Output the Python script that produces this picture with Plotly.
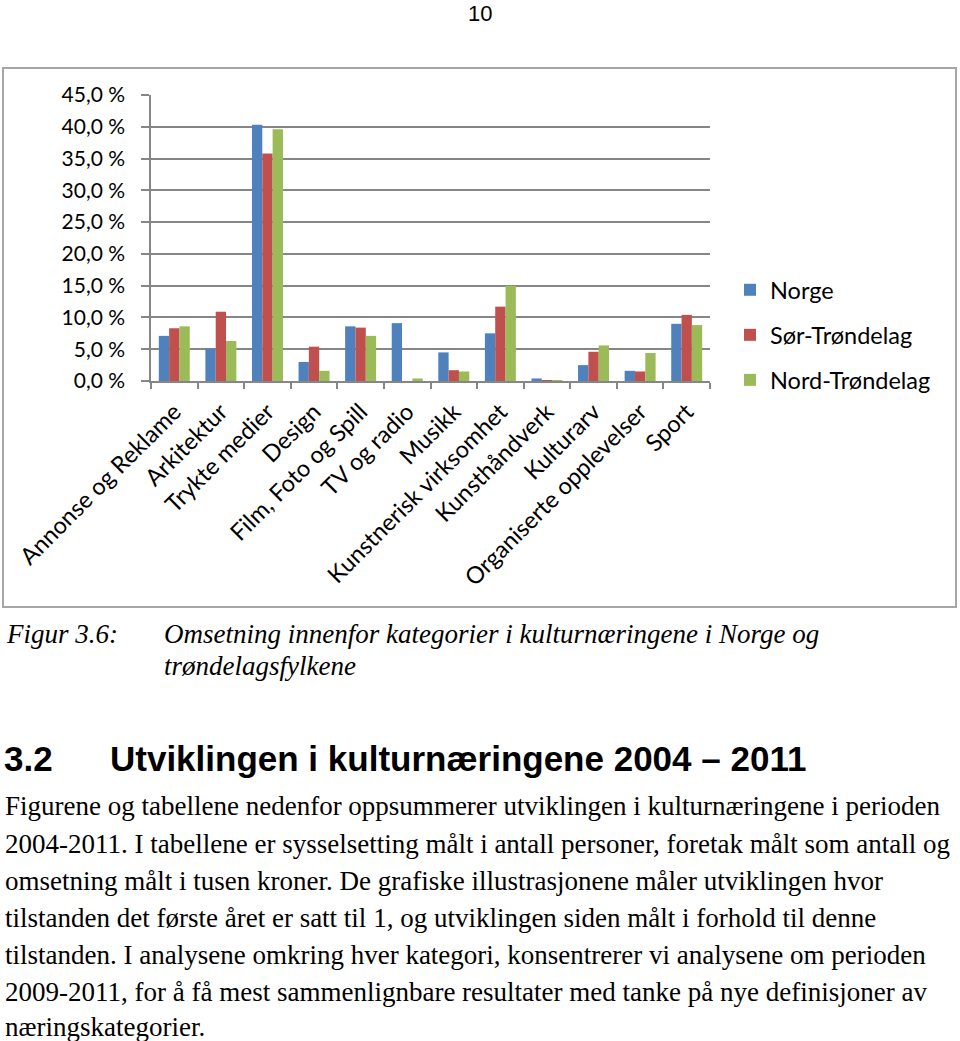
import plotly.graph_objects as go

W, H = 960, 1041

categories = ["Annonse og Reklame", "Arkitektur", "Trykte medier", "Design",
              "Film, Foto og Spill", "TV og radio", "Musikk",
              "Kunstnerisk virksomhet", "Kunsthåndverk", "Kulturarv",
              "Organiserte opplevelser", "Sport"]
norge = [7.1, 5.1, 40.3, 3.0, 8.6, 9.1, 4.5, 7.5, 0.4, 2.5, 1.6, 9.0]
sor_trondelag = [8.3, 10.9, 35.8, 5.4, 8.4, 0.0, 1.7, 11.7, 0.1, 4.6, 1.5, 10.4]
nord_trondelag = [8.6, 6.3, 39.6, 1.6, 7.1, 0.4, 1.5, 15.0, 0.1, 5.6, 4.4, 8.8]
series_names = ["Norge", "Sør-Trøndelag", "Nord-Trøndelag"]
series_colors = ["#4F81BD", "#C0504D", "#9BBB59"]
tick_vals = [0, 5, 10, 15, 20, 25, 30, 35, 40, 45]
tick_text = ["0,0 %", "5,0 %", "10,0 %", "15,0 %", "20,0 %", "25,0 %",
             "30,0 %", "35,0 %", "40,0 %", "45,0 %"]

page_number = "10"
caption_label = "Figur 3.6:"
caption_lines = ["Omsetning innenfor kategorier i kulturnæringene i Norge og",
                 "trøndelagsfylkene"]
heading_num = "3.2"
heading_text = "Utviklingen i kulturnæringene 2004 – 2011"
body_lines = [
    "Figurene og tabellene nedenfor oppsummerer utviklingen i kulturnæringene i perioden",
    "2004-2011. I tabellene er sysselsetting målt i antall personer, foretak målt som antall og",
    "omsetning målt i tusen kroner. De grafiske illustrasjonene måler utviklingen hvor",
    "tilstanden det første året er satt til 1, og utviklingen siden målt i forhold til denne",
    "tilstanden. I analysene omkring hver kategori, konsentrerer vi analysene om perioden",
    "2009-2011, for å få mest sammenlignbare resultater med tanke på nye definisjoner av",
    "næringskategorier.",
]


def px_x(x):
    return x / W


def px_y(y):
    return 1 - y / H


fig = go.Figure()
for name, vals, col in zip(series_names, [norge, sor_trondelag, nord_trondelag], series_colors):
    fig.add_trace(go.Bar(x=categories, y=vals, name=name, marker_color=col,
                         marker_line_width=0, legendgroup=name))

axis_col = "#868686"
chart_font = "Lato, 'Open Sans', sans-serif"

fig.update_layout(
    width=W, height=H, autosize=False,
    margin=dict(l=0, r=0, t=0, b=0, pad=0, autoexpand=False),
    paper_bgcolor="white", plot_bgcolor="white",
    barmode="group", bargap=0.335, bargroupgap=0,
    font=dict(family=chart_font, size=21, color="black"),
    xaxis=dict(domain=[px_x(151), px_x(710)], type="category",
               showline=True, linecolor=axis_col, linewidth=1.5,
               ticks="outside", tickson="boundaries", ticklen=6,
               tickcolor=axis_col, tickwidth=1.5, tickangle=-45,
               ticklabelstandoff=6,
               tickfont=dict(family=chart_font, size=23.5, color="black"),
               showgrid=False, fixedrange=True, automargin=False),
    yaxis=dict(domain=[px_y(381), px_y(95)], range=[0, 45],
               tickvals=tick_vals, ticktext=tick_text,
               showline=True, linecolor=axis_col, linewidth=1.5,
               ticks="outside", ticklen=8, tickcolor=axis_col, tickwidth=1.5,
               showgrid=True, gridcolor=axis_col, gridwidth=1.5,
               ticklabelstandoff=12,
               tickfont=dict(family=chart_font, size=21, color="black"),
               zeroline=False, fixedrange=True, automargin=False),
    legend=dict(x=px_x(730), y=px_y(268), xanchor="left", yanchor="top",
                font=dict(family=chart_font, size=23.5, color="black"),
                traceorder="grouped", tracegroupgap=11.5,
                bgcolor="rgba(0,0,0,0)"),
    showlegend=True,
)

# chart frame
fig.add_shape(type="rect", xref="paper", yref="paper",
              x0=px_x(3), x1=px_x(956), y0=px_y(607), y1=px_y(68),
              line=dict(color="#A6A6A6", width=2), layer="below")

serif = "'Liberation Serif', 'Times New Roman', serif"
annotations = []
annotations.append(dict(text=page_number, x=px_x(480), y=px_y(13), xanchor="center",
                        yanchor="middle", font=dict(family="'Liberation Sans', Arial", size=22)))
annotations.append(dict(text="<i>" + caption_label + "</i>", x=px_x(4), y=px_y(634),
                        xanchor="left", yanchor="middle", font=dict(family=serif, size=27)))
for i, line in enumerate(caption_lines):
    annotations.append(dict(text="<i>" + line + "</i>", x=px_x(162), y=px_y(634 + 32 * i),
                            xanchor="left", yanchor="middle", font=dict(family=serif, size=27)))
annotations.append(dict(text="<b>" + heading_num + "</b>", x=px_x(2), y=px_y(758),
                        xanchor="left", yanchor="middle",
                        font=dict(family="'Liberation Sans', Arial", size=35)))
annotations.append(dict(text="<b>" + heading_text + "</b>", x=px_x(108), y=px_y(758),
                        xanchor="left", yanchor="middle",
                        font=dict(family="'Liberation Sans', Arial", size=35)))
body_y = [806, 844, 881, 918, 955, 992, 1027]
for line, yy in zip(body_lines, body_y):
    annotations.append(dict(text=line, x=px_x(3), y=px_y(yy), xanchor="left",
                            yanchor="middle", font=dict(family=serif, size=27)))
for a in annotations:
    a.update(xref="paper", yref="paper", showarrow=False)
    a["font"]["color"] = "black"
fig.update_layout(annotations=annotations)

fig.write_html("out.html")
